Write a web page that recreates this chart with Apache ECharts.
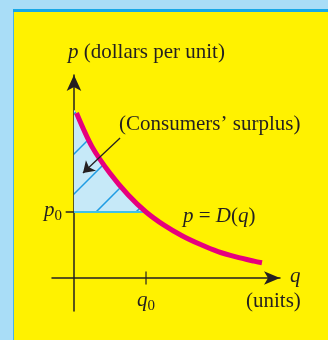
<!DOCTYPE html>
<html><head><meta charset="utf-8">
<script src="https://cdn.jsdelivr.net/npm/echarts@6/dist/echarts.min.js"></script>
<style>html,body{margin:0;padding:0;background:#a9ddf7}#c{width:328px;height:340px}</style>
</head><body><div id="c"></div>
<script>
// Demand curve p = D(q) (q0 = 2, p0 = 2)
var qValues = [0.07, 0.5, 1, 1.5, 2, 2.5, 3, 3.5, 4, 4.5, 5, 5.22];
var pValues = [5.0, 3.98, 3.17, 2.52, 2.0, 1.6, 1.28, 1.02, 0.8, 0.64, 0.51, 0.46];
var q0 = 2;
var p0 = 2;
var surplusTop = 5.1; // curve value at q = 0
var arrowFrom = [1.28, 4.24];
var arrowTo = [0.25, 3.18];

var curve = qValues.map(function (q, i) { return [q, pValues[i]]; });
var surplus = [[0, surplusTop]].concat(curve.filter(function (d) { return d[0] <= q0; }));

// hatch pattern
var pat = document.createElement('canvas');
pat.width = 40; pat.height = 40;
var g = pat.getContext('2d');
g.fillStyle = '#c6e9f8'; g.fillRect(0, 0, 40, 40);
g.strokeStyle = '#1f9ce3'; g.lineWidth = 1.5;
g.beginPath(); g.moveTo(-1, 29); g.lineTo(29, -1); g.moveTo(27, 41); g.lineTo(41, 27); g.stroke();

var serif = '"Liberation Serif", "Times New Roman", serif';
var ink = '#231f20';
var chart = echarts.init(document.getElementById('c'));
chart.setOption({
  backgroundColor: '#a9ddf7',
  animation: false,
  grid: { left: 52, right: 48, top: 75, bottom: 29 },
  xAxis: {
    type: 'value', min: -0.61, max: 5.72,
    splitLine: { show: false }, axisTick: { show: false }, axisLabel: { show: false },
    axisLine: { onZero: true, lineStyle: { color: ink, width: 1.5 }, symbol: ['none', 'arrow'], symbolSize: [10, 16] }
  },
  yAxis: {
    type: 'value', min: -1, max: 6.15,
    splitLine: { show: false }, axisTick: { show: false }, axisLabel: { show: false },
    axisLine: { onZero: true, lineStyle: { color: ink, width: 1.5 }, symbol: ['none', 'arrow'], symbolSize: [11, 16] }
  },
  graphic: [
    { type: 'rect', z: -10, shape: { x: 13, y: 9, width: 315, height: 3 }, style: { fill: '#18a8e6' } },
    { type: 'rect', z: -10, shape: { x: 13, y: 12, width: 315, height: 328 }, style: { fill: '#fff200' } },
    { type: 'rect', z: -9, shape: { x: 13, y: 12, width: 1, height: 328 }, style: { fill: '#4ab3e6' } },
    { type: 'text', z: 100, left: 68, top: 42, style: { text: '{i|p} (dollars per unit)', font: '21px ' + serif, fill: ink, rich: { i: { fontStyle: 'italic', fontSize: 21, fontFamily: serif } } } },
    { type: 'text', z: 100, left: 119, top: 114, style: { text: '(Consumers\u2019 surplus)', font: '21px ' + serif, fill: ink } },
    { type: 'text', z: 100, left: 44, top: 200, style: { text: '{i|p}{s|0}', fill: ink, rich: { i: { fontStyle: 'italic', fontSize: 21, fontFamily: serif, lineHeight: 24, verticalAlign: 'top' }, s: { fontSize: 15, fontFamily: serif, lineHeight: 24, verticalAlign: 'bottom', padding: [8, 0, 0, 0] } } } },
    { type: 'text', z: 100, left: 183, top: 206, style: { text: '{i|p} = {i|D}({i|q})', font: '21px ' + serif, fill: ink, rich: { i: { fontStyle: 'italic', fontSize: 21, fontFamily: serif } } } },
    { type: 'text', z: 100, left: 290, top: 266, style: { text: 'q', font: 'italic 21px ' + serif, fill: ink } },
    { type: 'text', z: 100, left: 137, top: 290, style: { text: '{i|q}{s|0}', fill: ink, rich: { i: { fontStyle: 'italic', fontSize: 21, fontFamily: serif, lineHeight: 24, verticalAlign: 'top' }, s: { fontSize: 15, fontFamily: serif, lineHeight: 24, verticalAlign: 'bottom', padding: [8, 0, 0, 0] } } } },
    { type: 'text', z: 100, left: 246, top: 291, style: { text: '(units)', font: '21px ' + serif, fill: ink } }
  ],
  series: [
    { type: 'line', data: surplus, smooth: 0.3, symbol: 'none', z: 1,
      lineStyle: { width: 0 }, areaStyle: { origin: p0, color: { image: pat, repeat: 'repeat' }, opacity: 1 } },
    { type: 'line', data: [[0, p0], [q0, p0]], symbol: 'none', z: 2, lineStyle: { color: '#3fc1e6', width: 2 } },
    { type: 'line', data: [[-0.23, p0], [0, p0]], symbol: 'none', z: 2, lineStyle: { color: ink, width: 1.5 } },
    { type: 'line', data: [[q0, 0.2], [q0, -0.2]], symbol: 'none', z: 2, lineStyle: { color: ink, width: 1.2 } },
    { type: 'line', data: curve, smooth: 0.3, symbol: 'none', z: 3, lineStyle: { color: '#e6007e', width: 5, cap: 'butt' } },
    { type: 'lines', coordinateSystem: 'cartesian2d', z: 4, symbol: ['none', 'arrow'], symbolSize: 11,
      lineStyle: { color: ink, width: 1.3, opacity: 1 }, data: [{ coords: [arrowFrom, arrowTo] }] }
  ]
});
</script></body></html>
